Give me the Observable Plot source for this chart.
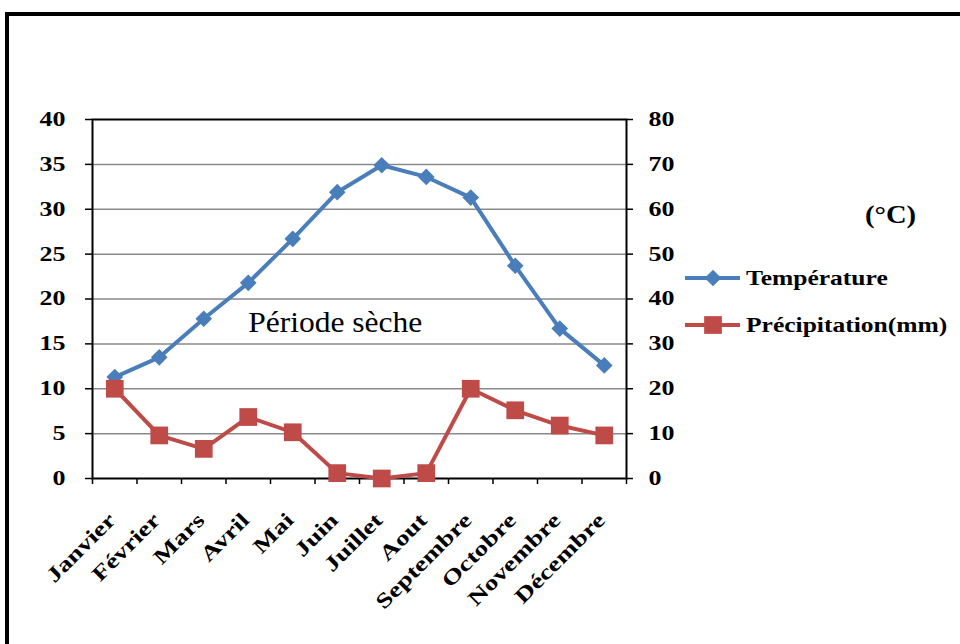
<!DOCTYPE html>
<html><head><meta charset="utf-8">
<script src="https://cdn.jsdelivr.net/npm/d3@7"></script>
<script src="https://cdn.jsdelivr.net/npm/@observablehq/plot@0.6"></script>
<style>
body{margin:0;background:#fff;}
#wrap{position:relative;width:960px;height:644px;overflow:hidden;background:#fff;}
#border{position:absolute;left:5px;top:12px;width:1000px;height:700px;border-top:4px solid #000;border-left:4px solid #000;}
#chart{position:absolute;left:0;top:0;}
#legend{position:absolute;left:0;top:0;}
</style></head><body>
<div id="wrap"><div id="border"></div><div id="chart"></div><svg id="legend" width="960" height="644"></svg></div>
<script>
const months = ["Janvier","Février","Mars","Avril","Mai","Juin","Juillet","Aout","Septembre","Octobre","Novembre","Décembre"];
const temperature = [11.3, 13.5, 17.8, 21.8, 26.7, 31.9, 34.9, 33.6, 31.3, 23.7, 16.7, 12.6];
const precipitation = [20.0, 9.6, 6.6, 13.7, 10.3, 1.2, 0.0, 1.2, 20.0, 15.2, 11.8, 9.6];
const leftTicks = [0, 5, 10, 15, 20, 25, 30, 35, 40];
const rightTicks = [0, 10, 20, 30, 40, 50, 60, 70, 80];
const seriesNames = ["Température", "Précipitation(mm)"];
const unitLabel = "(\u00B0C)";
const annotation = {label: "Période sèche", i: 3, v: 17.4};

const blue = "#4A7EBB", red = "#BE4B48";
const serif = "'Liberation Serif','Times New Roman',serif";
const rows = months.map((m, i) => ({i, month: m, t: temperature[i], p: precipitation[i]}));

const plot = Plot.plot({
  width: 960, height: 644,
  marginTop: 119, marginBottom: 166, marginLeft: 92, marginRight: 334,
  style: {fontFamily: serif, fontSize: "20px", fontWeight: "bold", color: "#000", background: "transparent", overflow: "visible"},
  x: {type: "linear", domain: [-0.5, months.length - 0.5], axis: null},
  y: {domain: [0, 40], axis: null},
  marks: [
    Plot.gridY(leftTicks.filter(d => d > 0 && d < 40), {stroke: "#8a8a8a", strokeOpacity: 1, strokeWidth: 1.5}),
    Plot.axisY({ticks: leftTicks, anchor: "left", tickSize: 7, tickPadding: 20, label: null, strokeWidth: 1.5}),
    Plot.axisY({ticks: leftTicks, anchor: "right", tickSize: 6, tickPadding: 16, label: null, strokeWidth: 1.5,
      tickFormat: d => rightTicks[leftTicks.indexOf(d)]}),
    Plot.axisX({ticks: d3.range(months.length + 1).map(k => k - 0.5), tickFormat: () => "", tickSize: 6, label: null, strokeWidth: 1.5}),
    Plot.frame({stroke: "#000", strokeWidth: 2}),
    Plot.text(rows, {x: "i", text: "month", frameAnchor: "bottom", rotate: -45, textAnchor: "end", dx: 2, dy: 43, fontSize: 21, fontFamily: serif, fontWeight: "bold"}),
    Plot.text([annotation], {x: "i", y: "v", text: "label", textAnchor: "start", fontWeight: "normal", fontSize: 30, fontFamily: serif}),
    Plot.line(rows, {x: "i", y: "t", stroke: blue, strokeWidth: 4}),
    Plot.dot(rows, {x: "i", y: "t", symbol: "diamond2", r: 7.5, fill: blue}),
    Plot.line(rows, {x: "i", y: d => d.p / 2, stroke: red, strokeWidth: 4}),
    Plot.dot(rows, {x: "i", y: d => d.p / 2, symbol: "square", r: 10, fill: red})
  ]
});
document.getElementById("chart").append(plot);

function stretch(t, f) {
  const w = t.getComputedTextLength();
  if (w > 0) { t.setAttribute("textLength", w * f); t.setAttribute("lengthAdjust", "spacingAndGlyphs"); }
}
plot.querySelectorAll("text").forEach(t => stretch(t, t.textContent === annotation.label ? 1.05 : 1.3));

// legend
const lg = d3.select("#legend").style("font-family", serif).style("font-weight", "bold");
const items = [
  {label: seriesNames[0], color: blue, symbol: d3.symbolDiamond2, size: Math.PI * 56, cy: 278},
  {label: seriesNames[1], color: red, symbol: d3.symbolSquare, size: Math.PI * 100, cy: 325}
];
items.forEach(it => {
  const g = lg.append("g");
  g.append("line").attr("x1", 685).attr("x2", 740).attr("y1", it.cy).attr("y2", it.cy).attr("stroke", it.color).attr("stroke-width", 4);
  g.append("path").attr("d", d3.symbol(it.symbol, it.size)()).attr("transform", `translate(713,${it.cy})`).attr("fill", it.color);
  const t = g.append("text").attr("x", 746).attr("y", it.cy + 7).attr("font-size", 22).text(it.label);
  stretch(t.node(), 1.16);
});
const u = lg.append("text").attr("x", 865).attr("y", 223).attr("font-size", 26).text(unitLabel);
stretch(u.node(), 1.1);
</script>
</body></html>
